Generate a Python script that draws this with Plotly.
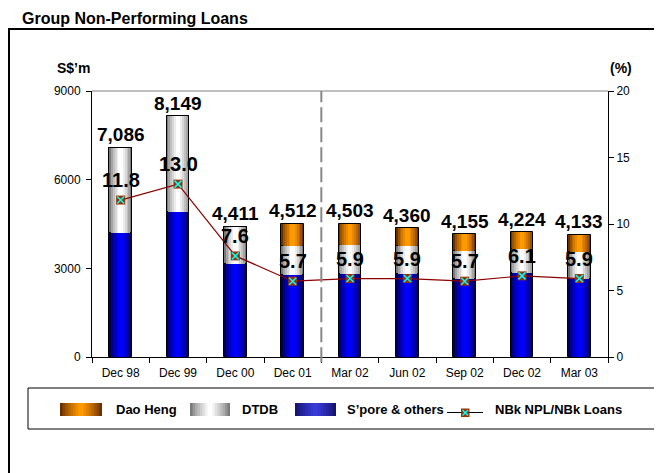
import plotly.graph_objects as go

# ---------------- data ----------------
categories = ["Dec 98", "Dec 99", "Dec 00", "Dec 01", "Mar 02", "Jun 02", "Sep 02", "Dec 02", "Mar 03"]
spore_others = [4210, 4920, 3150, 2765, 2795, 2800, 2650, 2840, 2650]
dtdb = [2876, 3229, 1261, 990, 980, 940, 930, 810, 900]
dao_heng = [0, 0, 0, 757, 728, 620, 575, 574, 583]
totals = [7086, 8149, 4411, 4512, 4503, 4360, 4155, 4224, 4133]
npl_ratio = [11.8, 13.0, 7.6, 5.7, 5.9, 5.9, 5.7, 6.1, 5.9]
left_ticks = [0, 3000, 6000, 9000]
right_ticks = [0, 5, 10, 15, 20]
series_names = ["Dao Heng", "DTDB", "S’pore & others", "NBk NPL/NBk Loans"]

FONT = "Liberation Sans, Arial, sans-serif"

# page offset (body margin) and plot-area geometry in screenshot pixels
OFF = 8
L, R, T, B = 92, 608, 91, 357
W, H = R - L, B - T
FIG_W, FIG_H = 662 - OFF, 473 - OFF


def px(x):
    return (x - L) / W


def py(y):
    return (B - y) / H


def mix(c1, c2, t):
    a = [int(c1[i:i + 2], 16) for i in (1, 3, 5)]
    b = [int(c2[i:i + 2], 16) for i in (1, 3, 5)]
    return "#" + "".join(f"{round(x + (y - x) * t):02x}" for x, y in zip(a, b))


fig = go.Figure()

bar_w = 0.40
gradients = {
    "S’pore & others": ("#000050", "#0000ff"),
    "DTDB": ("#7a7a7a", "#ffffff"),
    "Dao Heng": ("#6b3000", "#ff9900"),
}
n_layers = 6
width_fracs = [1.0 - 0.16 * k for k in range(n_layers)]

base_spore = [0] * len(categories)
base_dtdb = spore_others
base_dao = [a + b for a, b in zip(spore_others, dtdb)]
segments = [
    ("S’pore & others", spore_others, base_spore),
    ("DTDB", dtdb, base_dtdb),
    ("Dao Heng", dao_heng, base_dao),
]

for name, vals, base in segments:
    edge, centre = gradients[name]
    for i, f in enumerate(width_fracs):
        c = mix(edge, centre, (i / (n_layers - 1)) ** 0.7)
        fig.add_trace(go.Bar(
            x=categories, y=vals, base=base, width=bar_w * f,
            marker=dict(color=c, line=dict(color="black" if i == 0 else c, width=1 if i == 0 else 0)),
            name=name, showlegend=False, hoverinfo="skip", yaxis="y",
        ))

fig.add_trace(go.Scatter(
    x=categories, y=npl_ratio, yaxis="y2", mode="lines+markers",
    line=dict(color="#8B0000", width=1.2),
    marker=dict(symbol="square", size=9, color="#993300", line=dict(width=0)),
    name=series_names[3], showlegend=False,
))
fig.add_trace(go.Scatter(
    x=categories, y=npl_ratio, yaxis="y2", mode="markers",
    marker=dict(symbol="x-thin", size=7, line=dict(color="#00FFFF", width=1.5)),
    showlegend=False, hoverinfo="skip",
))

annotations = []
for c, t in zip(categories, totals):
    annotations.append(dict(x=c, y=t, xref="x", yref="y", text=f"{t:,}", showarrow=False,
                            yanchor="middle", yshift=13,
                            font=dict(family=FONT, size=19, color="black", weight="bold")))
for c, r in zip(categories, npl_ratio):
    annotations.append(dict(x=c, y=r, xref="x", yref="y2", text=f"{r:.1f}", showarrow=False,
                            yanchor="middle", yshift=20,
                            font=dict(family=FONT, size=20, color="black", weight="bold")))

annotations += [
    dict(x=px(20), y=py(OFF), xref="paper", yref="paper", text="Group Non-Performing Loans",
         showarrow=False, xanchor="left", yanchor="top",
         font=dict(family=FONT, size=16, color="black", weight="bold")),
    dict(x=0, y=py(68), xref="paper", yref="paper", text="S$’m", showarrow=False,
         xanchor="right", yanchor="middle",
         font=dict(family=FONT, size=14, color="black", weight="bold")),
    dict(x=1, y=py(68), xref="paper", yref="paper", text="(%)", showarrow=False,
         xanchor="left", yanchor="middle",
         font=dict(family=FONT, size=14, color="black", weight="bold")),
]

shapes = [
    # outer frame
    dict(type="rect", xref="paper", yref="paper", x0=px(9), x1=px(690), y0=py(500), y1=py(29),
         line=dict(color="black", width=2), layer="below"),
    # legend frame
    dict(type="rect", xref="paper", yref="paper", x0=px(28), x1=px(657), y0=py(429), y1=py(388),
         line=dict(color="black", width=1), layer="below"),
    # top border of plot area
    dict(type="line", xref="paper", yref="paper", x0=0, x1=1, y0=1, y1=1,
         line=dict(color="#808080", width=1)),
    # dashed divider between annual and quarterly data
    dict(type="line", xref="x", yref="paper", x0=3.5, x1=3.5, y0=-0.02, y1=1,
         line=dict(color="#888888", width=2, dash="15px,5px")),
]

# ---------------- custom legend ----------------
leg_swatches = [
    (series_names[0], 60, 102, "#6b3000", "#ff9900"),
    (series_names[1], 190, 230, "#7a7a7a", "#ffffff"),
    (series_names[2], 295, 336, "#14146e", "#3a3ad8"),
]
leg_text_x = [114, 240, 345, 493]
sw_top, sw_bot = 403, 416
n_sw = 8
for (name, x0, x1, edge, centre), tx in zip(leg_swatches, leg_text_x):
    half = (x1 - x0) / 2
    mid = (x0 + x1) / 2
    for k in range(n_sw):
        hw = half * (1 - k / n_sw)
        c = mix(edge, centre, (k / (n_sw - 1)) ** 0.8)
        shapes.append(dict(type="rect", xref="paper", yref="paper",
                           x0=px(mid - hw), x1=px(mid + hw), y0=py(sw_bot), y1=py(sw_top),
                           fillcolor=c, line=dict(width=0)))
    annotations.append(dict(x=px(tx), y=py(409), xref="paper", yref="paper", text=name,
                            showarrow=False, xanchor="left", yanchor="middle",
                            font=dict(family=FONT, size=13, color="black", weight="bold")))

# line + marker legend item
ly = 412.5
shapes += [
    dict(type="line", xref="paper", yref="paper", x0=px(447), x1=px(483), y0=py(ly), y1=py(ly),
         line=dict(color="#000000", width=1)),
    dict(type="rect", xref="paper", yref="paper", x0=px(461), x1=px(469.5), y0=py(417), y1=py(408.5),
         fillcolor="#993300", line=dict(width=0)),
    dict(type="line", xref="paper", yref="paper", x0=px(462.5), x1=px(468), y0=py(410), y1=py(415.5),
         line=dict(color="#00FFFF", width=1.5)),
    dict(type="line", xref="paper", yref="paper", x0=px(462.5), x1=px(468), y0=py(415.5), y1=py(410),
         line=dict(color="#00FFFF", width=1.5)),
]
annotations.append(dict(x=px(leg_text_x[3]), y=py(409), xref="paper", yref="paper",
                        text=series_names[3], showarrow=False, xanchor="left", yanchor="middle",
                        font=dict(family=FONT, size=13, color="black", weight="bold")))

fig.update_layout(
    width=FIG_W, height=FIG_H,
    margin=dict(l=L - OFF, r=FIG_W - (R - OFF), t=T - OFF, b=FIG_H - (B - OFF), autoexpand=False),
    paper_bgcolor="white", plot_bgcolor="white",
    barmode="overlay", bargap=0,
    font=dict(family=FONT, size=12, color="black"),
    showlegend=False,
    xaxis=dict(type="category", showline=True, linecolor="black", linewidth=1,
               ticks="outside", ticklen=5, tickcolor="black", tickson="boundaries",
               showgrid=False, tickfont=dict(size=12), range=[-0.5, 8.5], ticklabelstandoff=5),
    yaxis=dict(range=[0, 9000], tickvals=left_ticks, showline=True, linecolor="black",
               linewidth=1, ticks="outside", ticklen=5, tickcolor="black", showgrid=False,
               zeroline=False, tickfont=dict(size=12), ticklabelstandoff=3),
    yaxis2=dict(range=[0, 20], tickvals=right_ticks, overlaying="y", side="right",
                showline=True, linecolor="black", linewidth=1, ticks="outside", ticklen=5,
                tickcolor="black", showgrid=False, zeroline=False, tickfont=dict(size=12)),
    annotations=annotations, shapes=shapes,
)

fig.write_html("out.html")
